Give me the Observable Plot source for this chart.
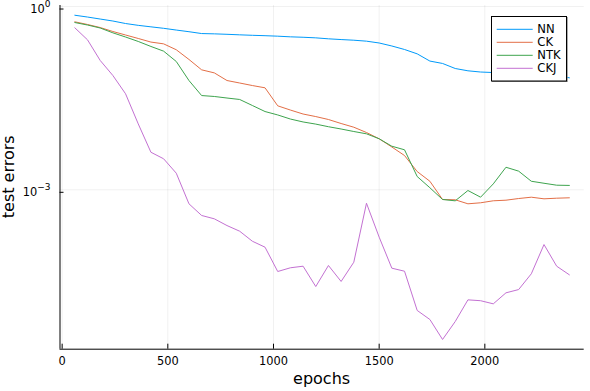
<!DOCTYPE html>
<html>
<head>
<meta charset="utf-8">
<script src="https://cdn.jsdelivr.net/npm/d3@7"></script>
<script src="https://cdn.jsdelivr.net/npm/@observablehq/plot@0.6"></script>
<style>
  html, body { margin: 0; padding: 0; background: #fff; }
  #chart { position: relative; width: 590px; height: 391px; }
</style>
</head>
<body>
<div id="chart"></div>
<script>
const seriesNames = ["NN", "CK", "NTK", "CKJ"];
const seriesColors = ["#009AFA", "#E36F47", "#3EA44E", "#C371D2"];
const epochs = [60,120,180,240,300,360,420,480,540,600,660,720,780,840,900,960,1020,1080,1140,1200,
  1260,1320,1380,1440,1500,1560,1620,1680,1740,1800,1860,1920,1980,2040,2100,2160,2220,2280,2340,2400];
const nn = [0.720,0.673,0.624,0.579,0.527,0.492,0.465,0.440,0.412,0.387,0.361,0.357,0.351,0.344,0.338,0.333,0.327,0.319,0.314,0.307,
  0.296,0.288,0.281,0.271,0.253,0.226,0.198,0.168,0.128,0.117,0.0967,0.0887,0.0847,0.0831,0.0816,0.0801,0.0786,0.0771,0.0743,0.0681];
const ck = [0.562,0.508,0.453,0.390,0.342,0.300,0.262,0.245,0.196,0.136,0.092,0.082,0.0615,0.056,0.0509,0.0467,0.0237,0.0202,0.0174,0.0158,
  0.01415,0.01217,0.01058,0.00867,0.00684,0.00502,0.00364,0.00199,0.00138,0.000694,0.000686,0.00059,0.000613,0.000661,0.000676,0.00072,0.000757,0.000712,0.000729,0.00074];
const ntk = [0.547,0.498,0.445,0.371,0.317,0.268,0.222,0.186,0.126,0.0615,0.0349,0.0337,0.0318,0.0301,0.0240,0.0191,0.0168,0.0144,0.0129,0.0119,
  0.01078,0.00989,0.0090,0.00825,0.00684,0.00517,0.00452,0.00165,0.00108,0.000694,0.00066,0.000974,0.000757,0.00125,0.00234,0.00202,0.00138,0.00128,0.00119,0.00118];
const ckj = [0.448,0.285,0.131,0.0743,0.0373,0.0120,0.00412,0.00322,0.00187,0.00059,0.00038,0.000335,0.00026,0.00021,0.000144,0.000115,0.000046,0.0000529,0.0000562,0.0000261,
  0.0000577,0.0000316,0.0000653,0.000603,0.000168,0.0000521,0.0000465,0.0000106,0.00000754,0.00000355,0.00000699,0.0000158,0.0000153,0.0000136,0.0000206,0.0000233,0.0000422,0.000127,0.0000562,0.0000406];
const xTicks = [0, 500, 1000, 1500, 2000];
const yTicks = [1, 0.001];
const xDomain = [-10.2, 2470.2];
const yDomain = [Math.pow(10, -5.609), Math.pow(10, 0.0168)];

const values = [nn, ck, ntk, ckj];
const data = seriesNames.flatMap((s, k) => epochs.map((e, i) => ({series: s, epoch: e, value: values[k][i]})));

const chart = Plot.plot({
  width: 590, height: 391,
  marginLeft: 59.5, marginRight: 6.3, marginTop: 5, marginBottom: 42.3,
  style: {fontFamily: "DejaVu Sans", fontSize: "11.4px", background: "#fff", color: "#000"},
  x: {domain: xDomain},
  y: {type: "log", domain: yDomain},
  color: {domain: seriesNames, range: seriesColors},
  marks: [
    Plot.gridX(xTicks, {stroke: "#000", strokeOpacity: 0.1, strokeWidth: 0.6}),
    Plot.gridY(yTicks, {stroke: "#000", strokeOpacity: 0.1, strokeWidth: 0.6}),
    Plot.line(data, {x: "epoch", y: "value", z: "series", stroke: "series", strokeWidth: 1}),
    Plot.ruleX([xDomain[0]], {stroke: "#000", strokeWidth: 1}),
    Plot.ruleY([yDomain[0]], {stroke: "#000", strokeWidth: 1}),
    Plot.axisX(xTicks, {tickSize: -5, tickPadding: 13, label: null, tickFormat: d => String(d)}),
    Plot.axisY(yTicks, {tickSize: -4, tickPadding: 13.5, label: null, dy: 2.5,
      tickFormat: d => String(Math.round(Math.log10(d)))})
  ]
});
document.getElementById("chart").appendChild(chart);

const svg = d3.select(chart);
// superscript tick labels
svg.selectAll('g[aria-label="y-axis tick label"] text').each(function() {
  const t = d3.select(this);
  const e = t.text().replace("-", "\u2212");
  t.text("");
  t.append("tspan").text("10");
  t.append("tspan").attr("dy", "-5.5px").attr("font-size", "9px").text(e);
});
// axis titles
svg.append("text").attr("x", 321.6).attr("y", 384).attr("text-anchor", "middle")
  .attr("font-family", "DejaVu Sans").attr("font-size", "16px").attr("fill", "#000").text("epochs");
svg.append("text").attr("transform", "translate(13.5,176.8) rotate(-90)").attr("text-anchor", "middle")
  .attr("font-family", "DejaVu Sans").attr("font-size", "16px").attr("fill", "#000").text("test errors");
// legend
const lg = svg.append("g");
lg.append("rect").attr("x", 492).attr("y", 17).attr("width", 75.7).attr("height", 65).attr("fill", "#888");
lg.append("rect").attr("x", 491.5).attr("y", 16.5).attr("width", 75).attr("height", 64.5)
  .attr("fill", "#fff").attr("stroke", "#000").attr("stroke-width", 1);
seriesNames.forEach((s, k) => {
  const y = 29.3 + k * 13;
  lg.append("line").attr("x1", 496.7).attr("x2", 532.7).attr("y1", y).attr("y2", y)
    .attr("stroke", seriesColors[k]).attr("stroke-width", 1);
  lg.append("text").attr("x", 537.3).attr("y", y).attr("dy", "0.36em").attr("text-anchor", "start")
    .attr("font-family", "DejaVu Sans").attr("font-size", "11.6px").attr("fill", "#000").text(s);
});
</script>
</body>
</html>
